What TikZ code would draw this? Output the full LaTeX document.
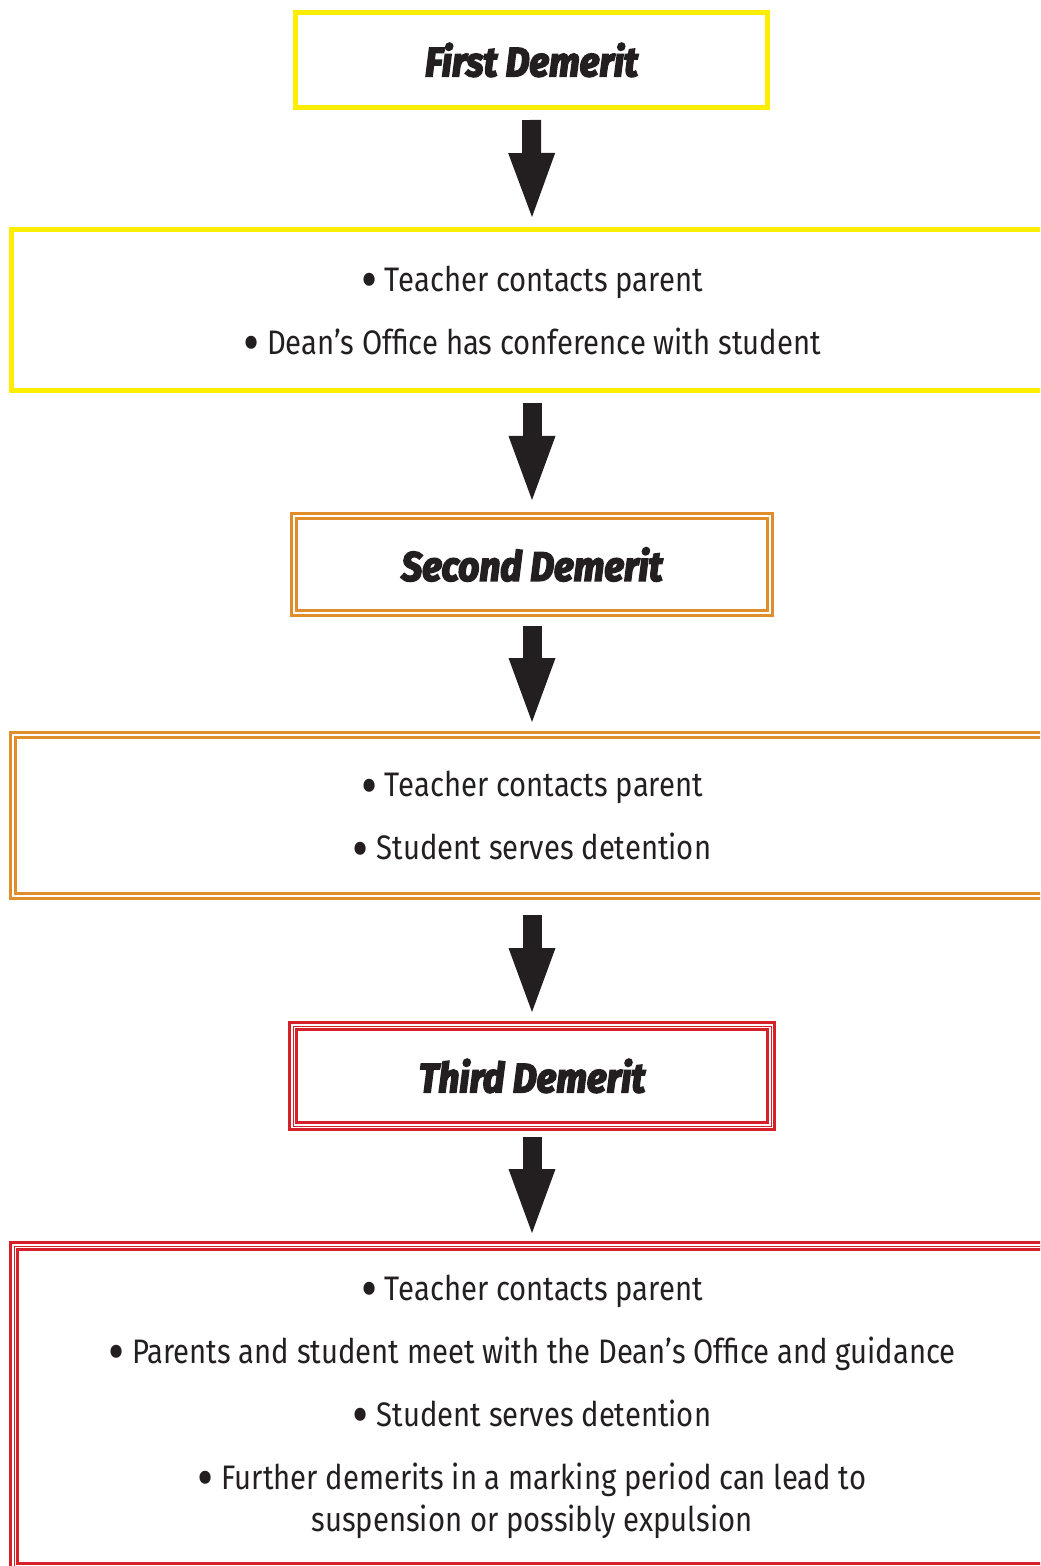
\documentclass[tikz,border=0pt]{standalone}
\usepackage{fontspec}
\setmainfont{Fira Sans}[FakeStretch=0.86]
\newfontfamily\titlefont{Fira Sans}[FakeStretch=0.9,BoldItalicFeatures={FakeBold=4}]
\usetikzlibrary{arrows.meta,calc}
\definecolor{demyellow}{HTML}{FFED00}
\definecolor{demorange}{HTML}{E08D2C}
\definecolor{demred}{HTML}{D6202A}
\definecolor{ink}{HTML}{231F20}
\newcommand\blt{\raisebox{-0.25em}[0pt][0pt]{\scalebox{1.7}{•}}}

\begin{document}
\begin{tikzpicture}[x=0.5pt,y=-0.5pt,
  box/.style={rectangle,inner sep=0pt,outer sep=0pt,text=ink},
  titlebox/.style={box,font=\titlefont\bfseries\itshape\fontsize{20.5}{24}\selectfont},
  stepsbox/.style={box,align=center,font=\fontsize{17}{21}\selectfont},
  yellowline/.style={draw=demyellow,line width=2.5pt},
  orangeline/.style={draw=demorange,line width=4pt,postaction={draw=white,line width=1pt}},
  redline/.style={draw=demred,line width=5pt,postaction={draw=white,line width=2pt},
    postaction={draw=demred,line width=0.5pt}},
  blockarrow/.style={draw=ink,line width=9.5pt,
    -{Triangle[width=23.5pt,length=32pt,line width=0pt]}}]
\useasboundingbox (0,0) rectangle (1040,1566);
\clip (0,0) rectangle (1040,1566);
% first demerit
\node[titlebox,yellowline,minimum width=236pt,minimum height=47.5pt] (first) at (531.5,60) {First Demerit};
\node[stepsbox,yellowline,minimum width=520.5pt,minimum height=80.5pt] (firststeps) at (532,310)
  {\blt{} Teacher contacts parent\\[10.5pt]
   \blt{} Dean’s Office has conference with student};
% second demerit
\node[titlebox,orangeline,minimum width=238pt,minimum height=48.5pt] (second) at (532,564.5) {Second Demerit};
\node[stepsbox,orangeline,minimum width=519pt,minimum height=80.5pt] (secondsteps) at (532,815.5)
  {\blt{} Teacher contacts parent\\[10.5pt]
   \blt{} Student serves detention};
% third demerit
\node[titlebox,redline,minimum width=239pt,minimum height=50pt] (third) at (532,1076) {Third Demerit};
\node[stepsbox,redline,minimum width=518pt,minimum height=160.5pt] (thirdsteps) at (532,1406.5)
  {\blt{} Teacher contacts parent\\[10.5pt]
   \blt{} Parents and student meet with the Dean’s Office and guidance\\[10.5pt]
   \blt{} Student serves detention\\[10.5pt]
   \blt{} Further demerits in a marking period can lead to\\
   suspension or possibly expulsion};
% arrows
\foreach \src/\dst/\gapA/\gapB in {first/firststeps/12.5/12.5, firststeps/second/12.5/16,
  second/secondsteps/13/13, secondsteps/third/19/14, third/thirdsteps/11/13}
  \draw[blockarrow] ($(\src.south)+(0,\gapA)$) -- ($(\dst.north)+(0,-\gapB)$);
\end{tikzpicture}
\end{document}
